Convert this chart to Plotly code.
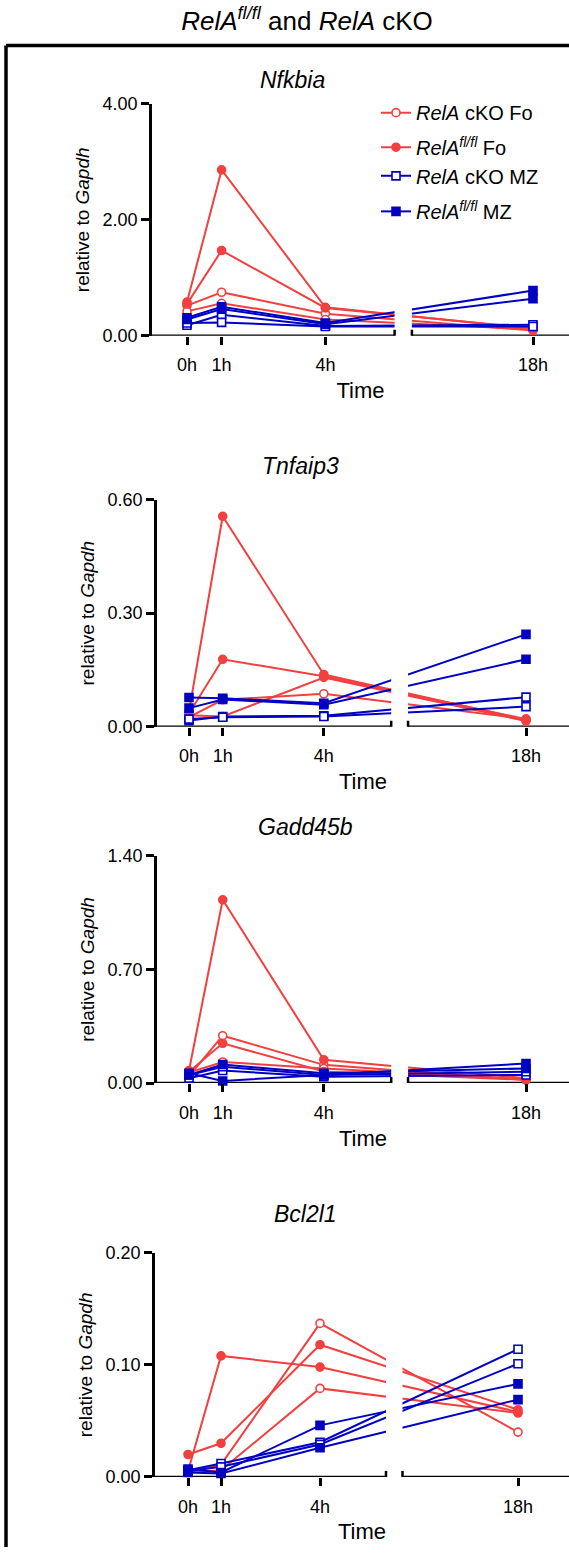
import plotly.graph_objects as go

# ---------------- data ----------------
TIMES = [0, 1, 4, 18]
TICK_LABELS = ["0h", "1h", "4h", "18h"]
GENES = ["Nfkbia", "Tnfaip3", "Gadd45b", "Bcl2l1"]
Y_MAX = [4.0, 0.6, 1.4, 0.2]

GROUP_NAMES = [
    "<i>RelA</i> cKO Fo",
    "<i>RelA</i><sup><i>fl/fl</i></sup> Fo",
    "<i>RelA</i> cKO MZ",
    "<i>RelA</i><sup><i>fl/fl</i></sup> MZ",
]

# two replicates per group, values at 0h, 1h, 4h, 18h
nfkbia_cko_fo = [[0.52, 0.75, 0.38, 0.09], [0.42, 0.56, 0.28, 0.11]]
nfkbia_fl_fo = [[0.58, 2.86, 0.49, 0.12], [0.55, 1.47, 0.48, 0.13]]
nfkbia_cko_mz = [[0.18, 0.36, 0.17, 0.19], [0.22, 0.23, 0.16, 0.16]]
nfkbia_fl_mz = [[0.31, 0.50, 0.22, 0.78], [0.28, 0.46, 0.20, 0.64]]

tnfaip3_cko_fo = [[0.030, 0.027, 0.130, 0.015], [0.025, 0.071, 0.087, 0.020]]
tnfaip3_fl_fo = [[0.040, 0.556, 0.138, 0.018], [0.035, 0.178, 0.133, 0.020]]
tnfaip3_cko_mz = [[0.016, 0.027, 0.029, 0.078], [0.020, 0.025, 0.027, 0.053]]
tnfaip3_fl_mz = [[0.077, 0.075, 0.062, 0.244], [0.049, 0.072, 0.058, 0.178]]

gadd45b_cko_fo = [[0.043, 0.292, 0.112, 0.018], [0.065, 0.130, 0.090, 0.025]]
gadd45b_fl_fo = [[0.077, 1.130, 0.144, 0.030], [0.070, 0.245, 0.071, 0.020]]
gadd45b_cko_mz = [[0.030, 0.077, 0.039, 0.050], [0.050, 0.100, 0.050, 0.070]]
gadd45b_fl_mz = [[0.060, 0.013, 0.050, 0.120], [0.050, 0.114, 0.060, 0.090]]

bcl2l1_cko_fo = [[0.005, 0.011, 0.137, 0.040], [0.004, 0.006, 0.079, 0.057]]
bcl2l1_fl_fo = [[0.020, 0.030, 0.118, 0.060], [0.005, 0.108, 0.098, 0.058]]
bcl2l1_cko_mz = [[0.006, 0.012, 0.031, 0.114], [0.005, 0.009, 0.029, 0.101]]
bcl2l1_fl_mz = [[0.007, 0.004, 0.046, 0.083], [0.004, 0.003, 0.026, 0.069]]

PANEL_DATA = [
    [nfkbia_cko_fo, nfkbia_fl_fo, nfkbia_cko_mz, nfkbia_fl_mz],
    [tnfaip3_cko_fo, tnfaip3_fl_fo, tnfaip3_cko_mz, tnfaip3_fl_mz],
    [gadd45b_cko_fo, gadd45b_fl_fo, gadd45b_cko_mz, gadd45b_fl_mz],
    [bcl2l1_cko_fo, bcl2l1_fl_fo, bcl2l1_cko_mz, bcl2l1_fl_mz],
]

# ---------------- styling / layout ----------------
W, H = 569, 1557
RED = "#F23F3F"
BLUE = "#0000C2"
FONT = "Liberation Sans, Arial, sans-serif"
GROUP_STYLE = [
    dict(color=RED, symbol="circle", filled=False),
    dict(color=RED, symbol="circle", filled=True),
    dict(color=BLUE, symbol="square", filled=False),
    dict(color=BLUE, symbol="square", filled=True),
]
LEGEND_IDS = ["legend", "legend2", "legend3", "legend4"]
LEGEND_Y_PX = [104, 139, 168, 204]
LEGEND_X_PX = 376

# broken x axis: 6h .. 14.5h collapsed into a small gap
BREAK_LO, BREAK_HI, GAP = 6.0, 14.5, 0.5


def pos(h):
    return h if h <= BREAK_LO else h - (BREAK_HI - BREAK_LO) + GAP


# pixel geometry of each panel
PANELS = [
    dict(left=152, zero=187, scale=34.6, top=95, bottom=330, title_x=292, title_y=71),
    dict(left=157, zero=189, scale=33.7, top=496, bottom=726, title_x=300, title_y=462),
    dict(left=157, zero=189, scale=33.7, top=857, bottom=1087, title_x=305, title_y=828),
    dict(left=155, zero=188, scale=33.0, top=1259, bottom=1486, title_x=305, title_y=1220),
]

fig = go.Figure()
shapes = []
annotations = []
layout = {}

for i, (gene, ymax, data, pp) in enumerate(zip(GENES, Y_MAX, PANEL_DATA, PANELS)):
    n = "" if i == 0 else str(i + 1)
    xa, ya = "x" + n, "y" + n
    for g, (reps, st, name) in enumerate(zip(data, GROUP_STYLE, GROUP_NAMES)):
        xs, ys = [], []
        for r in reps:
            xs += [pos(t) for t in TIMES] + [None]
            ys += list(r) + [None]
        fig.add_trace(go.Scatter(
            x=xs, y=ys, xaxis=xa, yaxis=ya, mode="lines+markers",
            name=name, legend=LEGEND_IDS[g], showlegend=(i == 0),
            cliponaxis=False, connectgaps=False,
            line=dict(color=st["color"], width=2),
            marker=dict(symbol=st["symbol"], size=8,
                        color=st["color"] if st["filled"] else "white",
                        line=dict(color=st["color"], width=1.6)),
        ))

    x0 = (pp["left"] - pp["zero"]) / pp["scale"]
    x1 = (W - pp["zero"]) / pp["scale"]
    dom_x = [pp["left"] / W, 1.0]
    dom_y = [1 - pp["bottom"] / H, 1 - pp["top"] / H]

    layout["xaxis" + n] = dict(
        domain=dom_x, range=[x0, x1], anchor=ya, showline=False, showgrid=False,
        zeroline=False, ticks="outside", ticklen=8, tickwidth=2.5, tickcolor="black",
        tickvals=[pos(t) for t in TIMES], ticktext=TICK_LABELS, ticklabelstandoff=5,
        tickfont=dict(family=FONT, size=18, color="black"),
        title=dict(text="Time", font=dict(family=FONT, size=22, color="black"), standoff=8),
        fixedrange=True,
    )
    layout["yaxis" + n] = dict(
        domain=dom_y, range=[0, ymax], anchor=xa, showline=True, linewidth=2.5,
        linecolor="black", showgrid=False, zeroline=False, ticks="outside", ticklen=8,
        tickwidth=2.5, tickcolor="black",
        tickvals=[0, ymax / 2, ymax], ticktext=[f"{v:.2f}" for v in (0, ymax / 2, ymax)],
        tickfont=dict(family=FONT, size=18, color="black"),
        title=dict(text="relative to <i>Gapdh</i>", font=dict(family=FONT, size=19, color="black"),
                   standoff=8),
        fixedrange=True,
    )

    # gap in the broken axis (blank out connecting lines)
    shapes.append(dict(type="rect", xref=xa, yref=ya + " domain", x0=BREAK_LO, x1=BREAK_LO + GAP,
                       y0=0, y1=1.02, fillcolor="white", line=dict(width=0), layer="above"))
    # broken x axis baseline
    for a, b in [(x0, BREAK_LO), (BREAK_LO + GAP, x1)]:
        shapes.append(dict(type="line", xref=xa, yref=ya, x0=a, x1=b, y0=0, y1=0,
                           line=dict(color="black", width=2.5), layer="below"))
    for xb in (BREAK_LO, BREAK_LO + GAP):
        shapes.append(dict(type="line", xref=xa, yref=ya, ysizemode="pixel", yanchor=0,
                           x0=xb, x1=xb, y0=-6, y1=6,
                           line=dict(color="black", width=2.5), layer="above"))

    annotations.append(dict(text=f"<i>{gene}</i>", xref="paper", yref="paper",
                            x=pp["title_x"] / W, y=1 - pp["title_y"] / H,
                            xanchor="center", yanchor="middle", showarrow=False,
                            font=dict(family=FONT, size=23, color="black")))

# outer frame (left and top)
FRAME_TOP = 36
shapes.append(dict(type="line", xref="paper", yref="paper", x0=6 / W, x1=1.0,
                   y0=1 - FRAME_TOP / H, y1=1 - FRAME_TOP / H, line=dict(color="black", width=3.5)))
shapes.append(dict(type="line", xref="paper", yref="paper", x0=6 / W, x1=6 / W,
                   y0=0, y1=1 - FRAME_TOP / H, line=dict(color="black", width=3.5)))

legends = {}
for lid, ypx in zip(LEGEND_IDS, LEGEND_Y_PX):
    legends[lid] = dict(x=LEGEND_X_PX / W, y=1 - ypx / H, xanchor="left", yanchor="middle",
                        bgcolor="rgba(0,0,0,0)", borderwidth=0,
                        font=dict(family=FONT, size=20, color="black"), itemwidth=30)

fig.update_layout(
    width=W, height=H, margin=dict(l=0, r=0, t=0, b=0),
    paper_bgcolor="white", plot_bgcolor="white",
    font=dict(family=FONT, color="black"),
    title=dict(text="<i>RelA</i><sup><i>fl/fl</i></sup> and <i>RelA</i> cKO",
               x=307 / W, xanchor="center", y=1 - 21 / H, yanchor="middle",
               font=dict(family=FONT, size=26, color="black")),
    showlegend=True,
    shapes=shapes, annotations=annotations,
    **legends,
    **layout,
)

fig.write_html("out.html")
